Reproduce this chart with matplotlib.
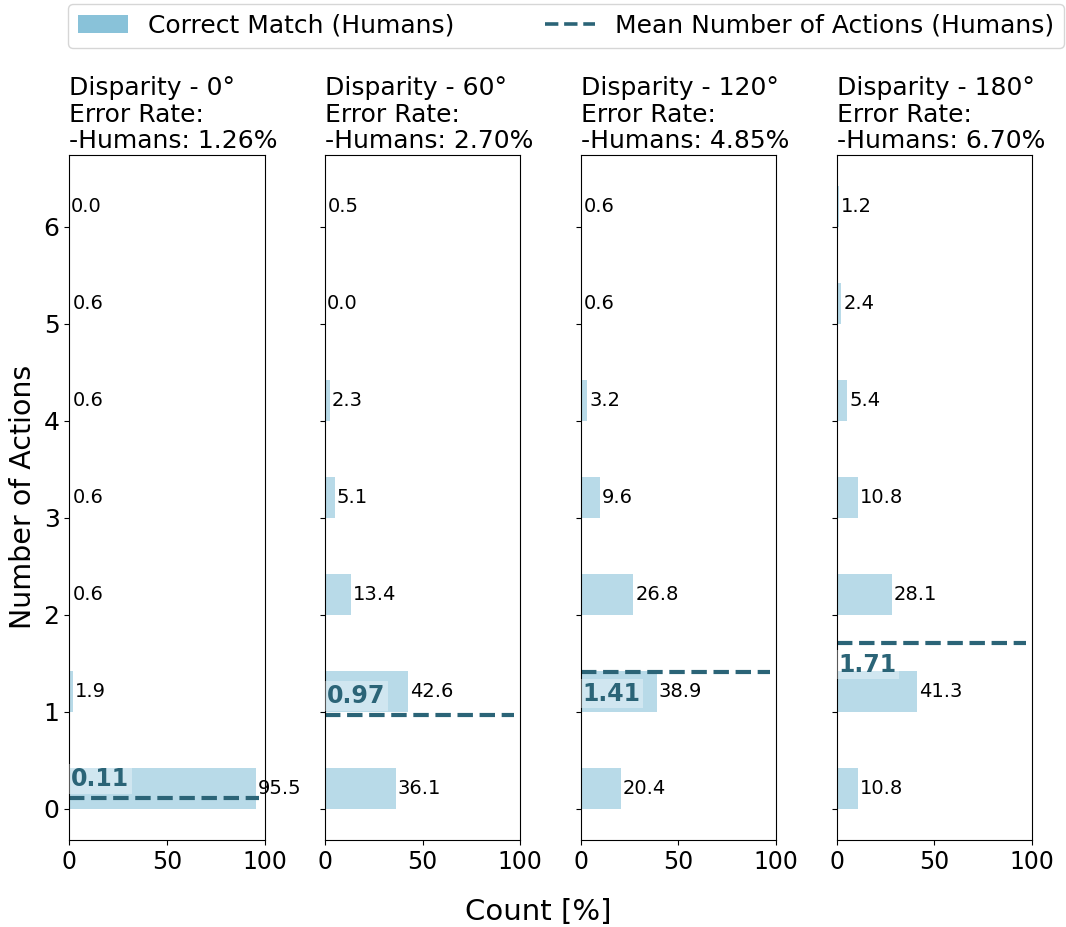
import matplotlib
matplotlib.use("Agg")
import matplotlib.pyplot as plt
from matplotlib.patches import Patch
from matplotlib.lines import Line2D

# share of trials (%) for each number of actions, one list per disparity
actions = [0, 1, 2, 3, 4, 5, 6]
disparities = ["0°", "60°", "120°", "180°"]
error_rates = [1.26, 2.70, 4.85, 6.70]
counts_0 = [95.5, 1.9, 0.6, 0.6, 0.6, 0.6, 0.0]
counts_60 = [36.1, 42.6, 13.4, 5.1, 2.3, 0.0, 0.5]
counts_120 = [20.4, 38.9, 26.8, 9.6, 3.2, 0.6, 0.6]
counts_180 = [10.8, 41.3, 28.1, 10.8, 5.4, 2.4, 1.2]
mean_actions = [0.11, 0.97, 1.41, 1.71]

counts = [counts_0, counts_60, counts_120, counts_180]

bar_color = "#89c2d9"
mean_color = "#2b6477"

fig, axes = plt.subplots(1, 4, figsize=(10.66, 9.27), dpi=100, sharey=True)
fig.subplots_adjust(left=0.065, right=0.968, bottom=0.094, top=0.833, wspace=0.31)

for ax, disp, err, cnt, mean in zip(axes, disparities, error_rates, counts, mean_actions):
    ax.barh(actions, cnt, height=0.42, align="edge", color=bar_color, alpha=0.6)
    for a, c in zip(actions, cnt):
        ax.text(c + 1, a + 0.21, f"{c:.1f}", va="center", ha="left", fontsize=14)

    ax.axhline(mean, xmin=0, xmax=0.97, color=mean_color, linestyle="--", linewidth=3)
    if mean < 1:
        ty, va = mean + 0.07, "bottom"
    else:
        ty, va = mean - 0.1, "top"
    ax.text(0.8, ty, f"{mean:.2f}", ha="left", va=va, fontsize=17,
            fontweight="bold", color=mean_color,
            bbox=dict(facecolor="white", alpha=0.35, edgecolor="none", pad=2))

    ax.set_xlim(0, 100)
    ax.set_xticks([0, 50, 100])
    ax.tick_params(axis="x", labelsize=17)
    ax.tick_params(axis="y", labelsize=18)
    ax.set_title(f"Disparity - {disp}\nError Rate:\n-Humans: {err:.2f}%",
                 loc="left", fontsize=18, linespacing=1.12, pad=5)

axes[0].set_yticks(actions)
axes[0].set_ylabel("Number of Actions", fontsize=20.5, labelpad=5)
fig.text(0.505, 0.001, "Count [%]", ha="center", va="bottom", fontsize=21)

handles = [Patch(facecolor=bar_color, label="Correct Match (Humans)"),
           Line2D([0], [0], color=mean_color, linestyle="--", linewidth=2.6,
                  label="Mean Number of Actions (Humans)")]
fig.legend(handles=handles, loc="upper center", ncol=2,
           bbox_to_anchor=(0.531, 0.996), fontsize=18,
           handlelength=2.0, columnspacing=3.6, borderaxespad=0)

fig.savefig("out.png", dpi=100)
